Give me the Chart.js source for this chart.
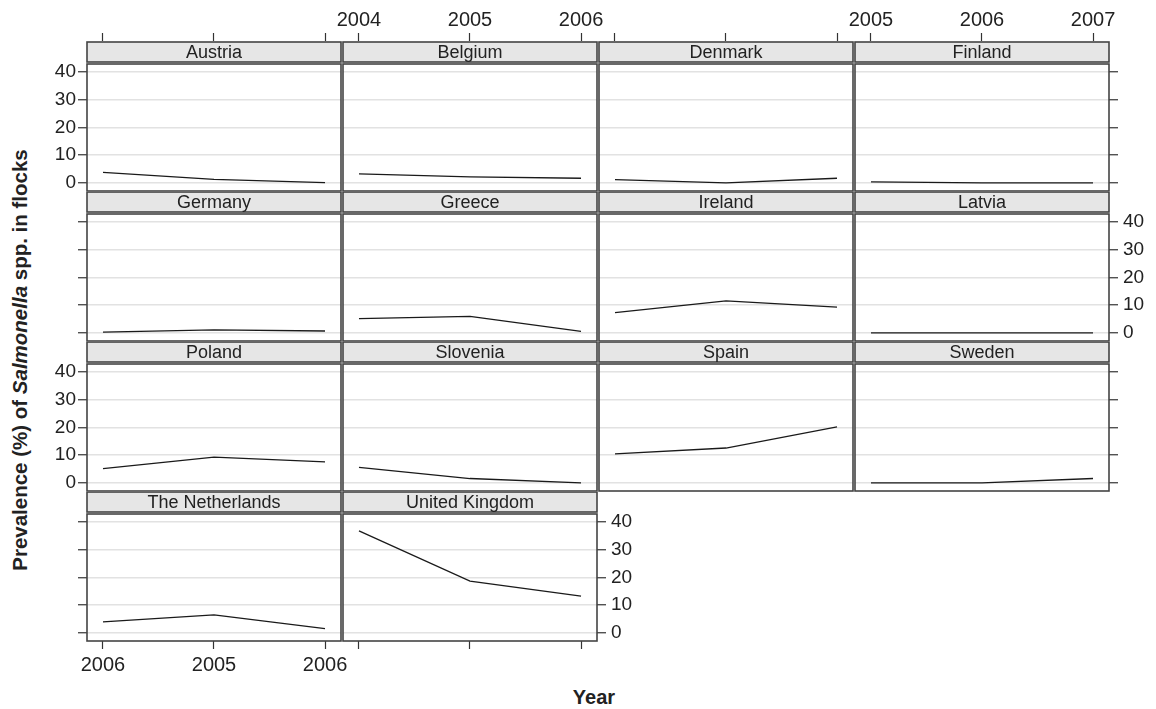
<!DOCTYPE html>
<html>
<head>
<meta charset="utf-8">
<script src="https://cdn.jsdelivr.net/npm/chart.js@4.4.0/dist/chart.umd.min.js"></script>
<style>
body { margin: 0; background: #fff; width: 1156px; height: 709px; position: relative; overflow: hidden;
       font-family: 'Liberation Sans', Arial, sans-serif; color: #222; }
canvas { position: absolute; }
#ytitle { position: absolute; left: 20px; top: 360px; transform: translate(-50%, -50%) rotate(-90deg);
          white-space: nowrap; font-weight: bold; font-size: 20.5px; }
#xtitle { position: absolute; left: 594px; top: 697px; transform: translate(-50%, -50%);
          font-weight: bold; font-size: 20px; }
</style>
</head>
<body>
<div id="ytitle">Prevalence (%) of <i>Salmonella</i> spp. in flocks</div>
<div id="xtitle">Year</div>
<script>
// Data

var countries = ['Austria', 'Belgium', 'Denmark', 'Finland', 'Germany', 'Greece', 'Ireland',
    'Latvia', 'Poland', 'Slovenia', 'Spain', 'Sweden', 'The Netherlands', 'United Kingdom'];

var austria = [3.8, 1.3, 0.1];
var belgium = [3.3, 2.2, 1.7];
var denmark = [1.2, 0.0, 1.7];
var finland = [0.4, 0.0, 0.0];
var germany = [0.3, 1.1, 0.7];
var greece = [5.2, 6.0, 0.6];
var ireland = [7.3, 11.6, 9.3];
var latvia = [0.0, 0.0, 0.0];
var poland = [5.2, 9.3, 7.6];
var slovenia = [5.6, 1.6, 0.0];
var spain = [10.5, 12.6, 20.2];
var sweden = [0.0, 0.0, 1.6];
var netherlands = [4.0, 6.5, 1.6];
var unitedKingdom = [36.8, 18.7, 13.3];

var prevalence = [austria, belgium, denmark, finland, germany, greece, ireland,
    latvia, poland, slovenia, spain, sweden, netherlands, unitedKingdom];

var yTicks = [0, 10, 20, 30, 40];
var yearsBelgium = ['2004', '2005', '2006'];
var yearsFinland = ['2005', '2006', '2007'];
var yearsNetherlands = ['2006', '2005', '2006'];

// Panel frame: strip with country name + border

var panelFrame = {
    id: 'panelFrame',
    afterDraw: function (chart, args, opts) {
        var a = chart.chartArea;
        var ctx = chart.ctx;
        ctx.save();
        ctx.fillStyle = '#fff';
        ctx.fillRect(a.left - 1, a.top - 23, a.width + 2, 23);
        ctx.fillStyle = '#e6e6e6';
        ctx.fillRect(a.left, a.top - 22, a.width, 20);
        ctx.strokeStyle = '#444';
        ctx.lineWidth = 1.6;
        ctx.strokeRect(a.left, a.top - 22, a.width, 20);
        ctx.strokeRect(a.left, a.top, a.width, a.height);
        ctx.fillStyle = '#222';
        ctx.font = '18px "Liberation Sans", Arial, sans-serif';
        ctx.textAlign = 'center';
        ctx.textBaseline = 'middle';
        ctx.fillText(opts.label, (a.left + a.right) / 2, a.top - 11);
        ctx.restore();
    }
};

Chart.defaults.font.family = '"Liberation Sans", Arial, sans-serif';

// Loading up the panels

countries.forEach(function (name, i) {
    var row = Math.floor(i / 4);
    var col = i % 4;

    var xPos = row === 0 ? 'top' : 'bottom';
    var xTicksOn = row === 0 || row === 3;
    var xLabels = null;
    if (name === 'Belgium') xLabels = yearsBelgium;
    if (name === 'Finland') xLabels = yearsFinland;
    if (name === 'The Netherlands') xLabels = yearsNetherlands;

    var yPos = (col === 3 || name === 'United Kingdom') ? 'right' : 'left';
    var yTicksOn = col === 0 || yPos === 'right';
    var yLabelsOn = yTicksOn && ((yPos === 'left' && row % 2 === 0) || (yPos === 'right' && row % 2 === 1));

    var canvas = document.createElement('canvas');
    canvas.width = 374;
    canvas.height = 267;
    canvas.style.left = (27 + col * 256) + 'px';
    canvas.style.top = (64 + row * 150 - 80) + 'px';
    document.body.appendChild(canvas);

    new Chart(canvas.getContext('2d'), {
        type: 'line',
        data: {
            datasets: [{
                data: prevalence[i].map(function (v, k) { return { x: k, y: v }; }),
                borderColor: '#1a1a1a',
                borderWidth: 1.3,
                pointRadius: 0,
                tension: 0,
                fill: false
            }]
        },
        options: {
            responsive: false,
            animation: false,
            events: [],
            layout: {
                padding: {
                    left: yPos === 'right' ? 60 : 10,
                    right: yPos === 'right' ? 10 : 60,
                    top: xPos === 'top' ? 5 : 80,
                    bottom: xPos === 'top' ? 60 : 10
                }
            },
            plugins: {
                legend: { display: false },
                tooltip: { enabled: false },
                panelFrame: { label: name }
            },
            scales: {
                x: {
                    type: 'linear',
                    position: xPos,
                    min: -0.144,
                    max: 2.144,
                    afterBuildTicks: function (scale) {
                        scale.ticks = [0, 1, 2].map(function (v) { return { value: v }; });
                    },
                    // the label area is clipped to the axis box, so the top axis needs room
                    afterFit: function (scale) { scale.height = xPos === 'top' ? 75 : 50; },
                    border: { display: false },
                    grid: {
                        drawOnChartArea: false,
                        tickLength: xPos === 'top' ? 31 : 8,
                        tickWidth: 1.2,
                        tickColor: xTicksOn ? '#333' : 'transparent'
                    },
                    ticks: {
                        maxRotation: 0,
                        padding: xPos === 'top' ? 1 : 4,
                        color: xLabels ? '#222' : 'transparent',
                        font: { size: 20 },
                        callback: function (v) { return xLabels ? xLabels[v] : ''; }
                    }
                },
                y: {
                    position: yPos,
                    min: -2.9,
                    max: 42.9,
                    afterBuildTicks: function (scale) {
                        scale.ticks = yTicks.map(function (v) { return { value: v }; });
                    },
                    afterFit: function (scale) { scale.width = 50; },
                    border: { display: false },
                    grid: {
                        color: '#e2e2e2',
                        lineWidth: 1.5,
                        tickLength: 9,
                        tickWidth: 1.2,
                        tickColor: yTicksOn ? '#333' : 'transparent'
                    },
                    ticks: {
                        padding: yPos === 'right' ? 5 : 2,
                        color: yLabelsOn ? '#222' : 'transparent',
                        font: { size: 19 }
                    }
                }
            }
        },
        plugins: [panelFrame]
    });
});
</script>
</body>
</html>
